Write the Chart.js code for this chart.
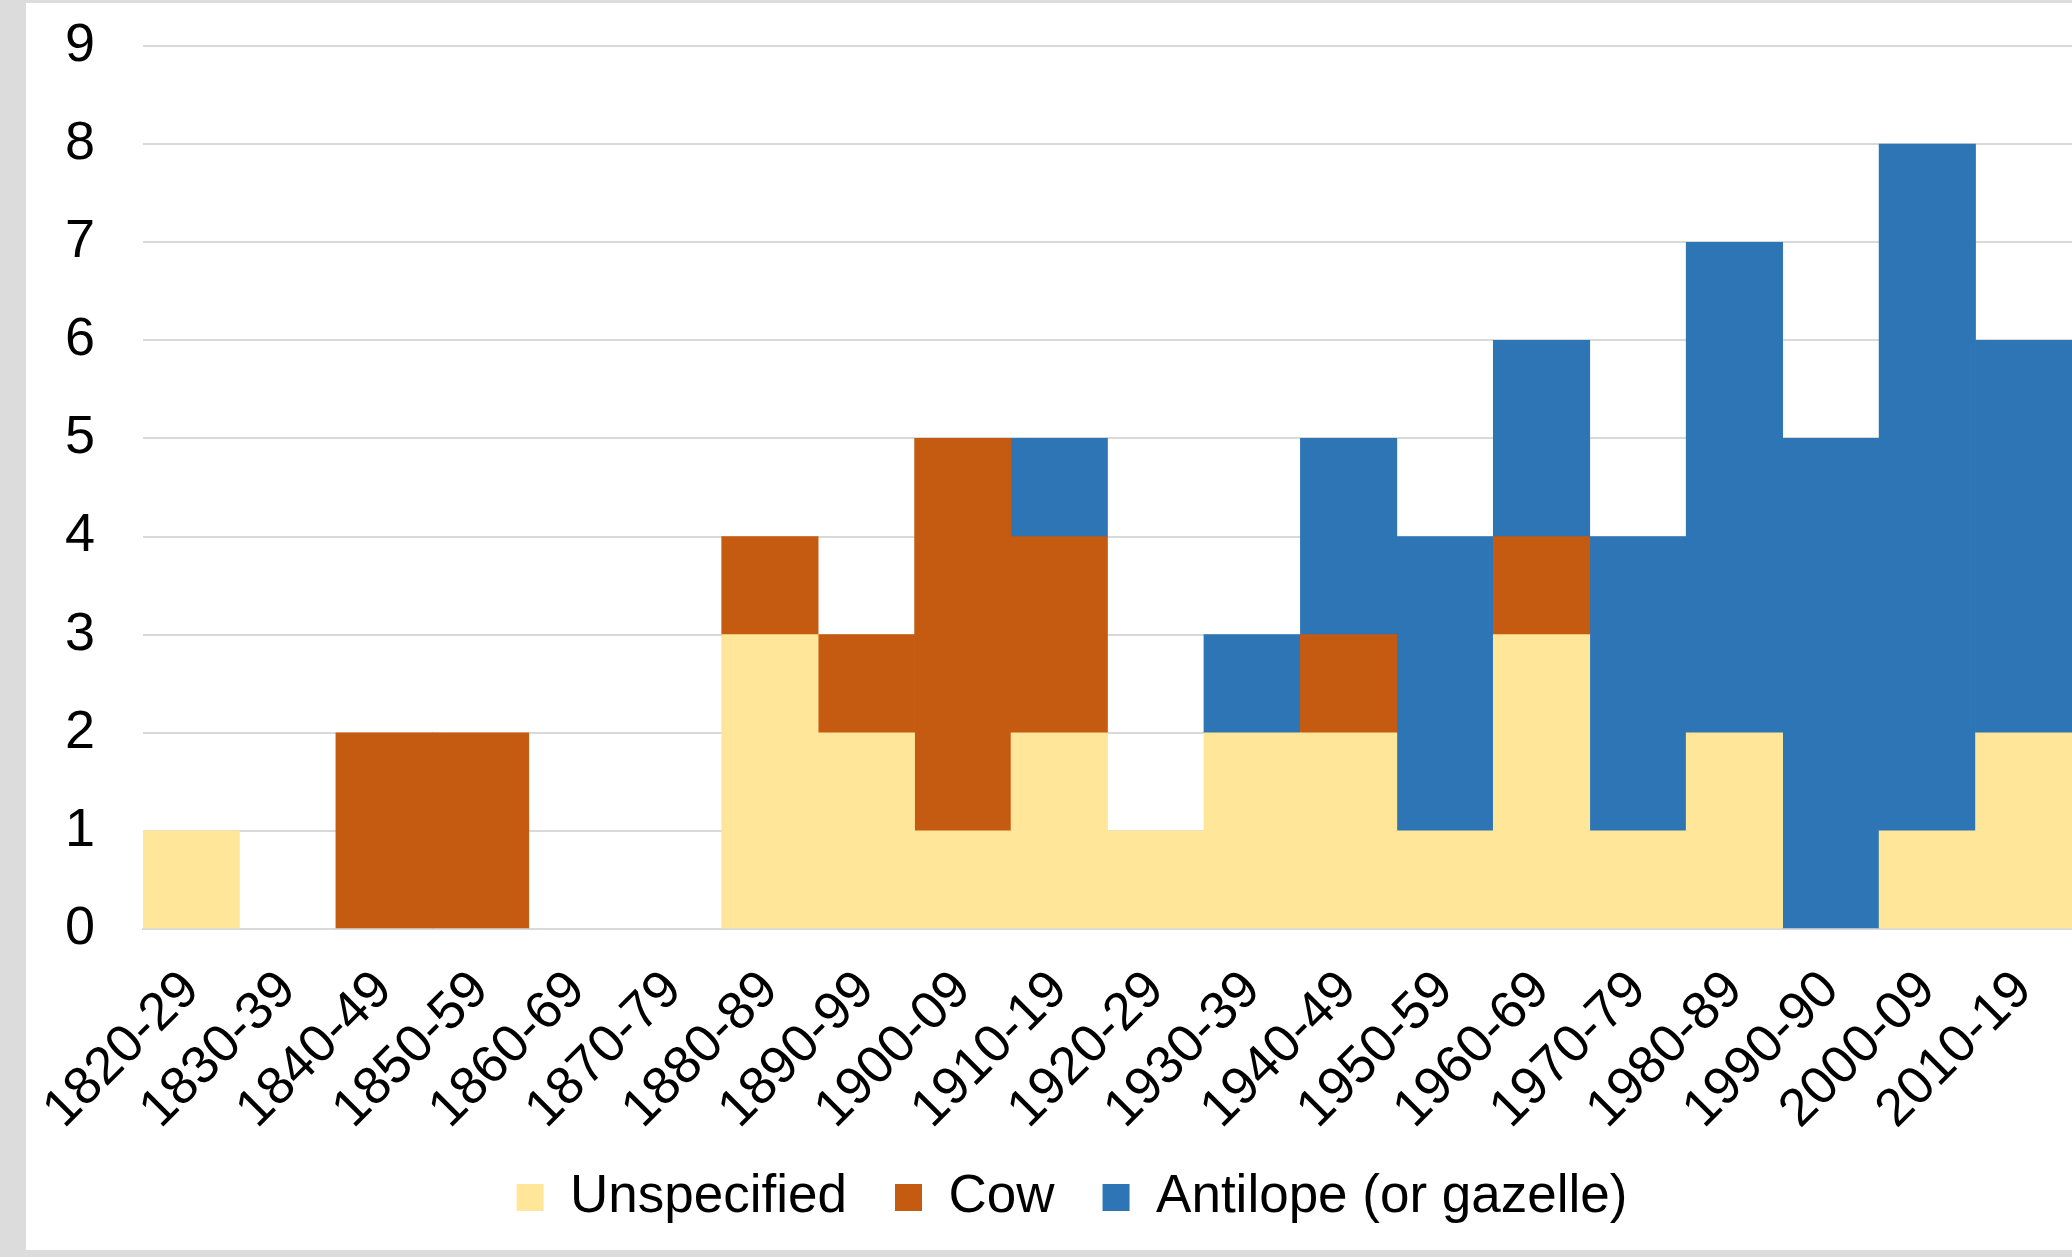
<!DOCTYPE html>
<html>
<head>
<meta charset="utf-8">
<script src="https://cdn.jsdelivr.net/npm/chart.js@4.4.1/dist/chart.umd.min.js"></script>
<style>
  html, body { margin: 0; padding: 0; width: 2072px; height: 1257px; overflow: hidden; background: #dcdcdc; }
  #frame { position: absolute; left: 26px; top: 3px; width: 2046px; height: 1247px; overflow: hidden; background: #ffffff; }
  #c { position: absolute; left: 0; top: 0; }
</style>
</head>
<body>
<div id="frame"><canvas id="c" width="2092" height="1231"></canvas></div>
<script>
const categories = ["1820-29","1830-39","1840-49","1850-59","1860-69","1870-79","1880-89","1890-99","1900-09","1910-19","1920-29","1930-39","1940-49","1950-59","1960-69","1970-79","1980-89","1990-90","2000-09","2010-19"];
const unspecified = [1,0,0,0,0,0,3,2,1,2,1,2,2,1,3,1,2,0,1,2];
const cow =         [0,0,2,2,0,0,1,1,4,2,0,0,1,0,1,0,0,0,0,0];
const antilope =    [0,0,0,0,0,0,0,0,0,1,0,1,2,3,2,3,5,5,7,4];
const yTicks = [0,1,2,3,4,5,6,7,8,9];
const seriesNames = ["Unspecified","Cow","Antilope (or gazelle)"];

const FONT = "'Liberation Sans', Arial, sans-serif";
const nz = arr => arr.map(v => (v === 0 ? null : v));

new Chart(document.getElementById('c'), {
  type: 'bar',
  data: {
    labels: categories,
    datasets: [
      { label: seriesNames[0], data: nz(unspecified), backgroundColor: '#FFE699' },
      { label: seriesNames[1], data: nz(cow), backgroundColor: '#C55A11' },
      { label: seriesNames[2], data: nz(antilope), backgroundColor: '#2E75B6' }
    ]
  },
  options: {
    responsive: false,
    animation: false,
    devicePixelRatio: 1,
    layout: { padding: { left: 0, right: 0, top: 43, bottom: 0 } },
    datasets: { bar: { barPercentage: 1.0, categoryPercentage: 1.0, borderWidth: 0 } },
    plugins: {
      legend: {
        position: 'bottom',
        labels: {
          font: { family: FONT, size: 53 },
          color: '#000000',
          boxWidth: 27,
          boxHeight: 27,
          padding: 48
        }
      },
      tooltip: { enabled: false }
    },
    scales: {
      x: {
        stacked: true,
        grid: { display: false, drawTicks: false },
        border: { display: true, color: '#d9d9d9', width: 2 },
        ticks: {
          font: { family: FONT, size: 53 },
          color: '#000000',
          maxRotation: 45,
          minRotation: 45,
          autoSkip: false,
          padding: 30
        },
        afterFit: (s) => {
          s.paddingLeft = 0; s.paddingRight = 0; s.height = 194;
          s._computeLabelArea = () => null;
        }
      },
      y: {
        stacked: true,
        min: 0,
        max: 9,
        afterBuildTicks: (scale) => { scale.ticks = yTicks.map(v => ({ value: v })); },
        grid: { color: '#d9d9d9', lineWidth: 2, drawTicks: false },
        border: { display: false },
        ticks: {
          font: { family: FONT, size: 54 },
          color: '#000000',
          padding: 48
        },
        afterFit: (s) => { s.width = 117; s.paddingTop = 0; s.paddingBottom = 0; }
      },
      yRight: {
        position: 'right',
        display: true,
        grid: { display: false, drawTicks: false },
        border: { display: false },
        ticks: { display: false },
        afterFit: (s) => { s.width = 46; s.paddingTop = 0; s.paddingBottom = 0; }
      }
    }
  }
});
</script>
</body>
</html>
